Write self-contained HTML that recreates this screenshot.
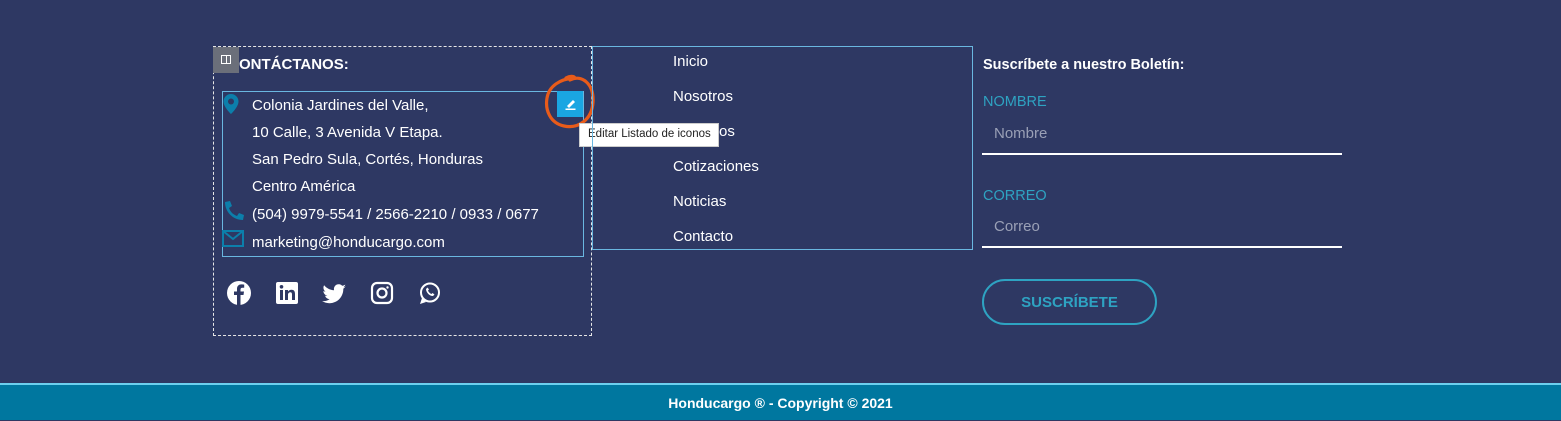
<!DOCTYPE html>
<html><head><meta charset="utf-8"><style>
*{margin:0;padding:0;box-sizing:border-box}
body{width:1561px;height:420px;background:#2e3863;position:relative;overflow:hidden;font-family:"Liberation Sans",sans-serif;color:#fff}
.a{position:absolute}
.t{font-size:15px;white-space:nowrap}
</style></head><body>
<div class="a" style="left:213px;top:46px;width:379px;height:290px;border:1px dashed #e6e6e6"></div>
<div class="a" style="left:213px;top:47px;width:26px;height:26px;background:#6b6f7a"></div>
<div class="a" style="left:221px;top:55px;width:10px;height:9px;border:1.5px solid #fff"></div>
<div class="a" style="left:225.5px;top:55px;width:1.5px;height:9px;background:#fff"></div>
<div class="a t" style="left:239px;top:56px;font-weight:bold;font-size:15px">ONTÁCTANOS:</div>
<div class="a" style="left:222px;top:91px;width:362px;height:166px;border:1px solid #6ab7e0"></div>
<div class="a" style="left:557px;top:91px;width:26px;height:26px;background:#1aa6e2"></div>
<svg class="a" style="left:557px;top:91px" width="26" height="26"><path d="M10 15 L16 9 L18 11 L12 17 Z" fill="#fff"/><rect x="8.5" y="17.5" width="10" height="1.5" fill="#fff"/></svg>
<svg class="a" style="left:538px;top:70px" width="62" height="64"><path d="M32 10 C44 4 56 14 55 32 C54 50 40 59 26 56 C12 53 7 40 9 28 C11 16 22 9 36 8 C38 7 33 5 28 8" fill="none" stroke="#e85b1a" stroke-width="3.2" stroke-linecap="round"/></svg>
<div class="a" style="left:579px;top:123px;width:140px;height:24px;background:#fff;border:1px solid #ccc;color:#222;font-size:11.5px;padding:4px 0 0 8px;white-space:nowrap">Editar Listado de iconos</div>
<svg class="a" style="left:222px;top:93px" width="18" height="22"><path d="M9 1a7.5 7.5 0 0 0-7.5 7.5C1.5 14 9 21 9 21s7.5-7 7.5-12.5A7.5 7.5 0 0 0 9 1z" fill="#0c7fab"/><circle cx="9" cy="8.5" r="3" fill="#2e3863"/></svg>
<svg class="a" style="left:222px;top:200px" width="24" height="22"><path d="M3 2l5-1 2 5-3 2c1.5 4 4 6.5 8 8l2-3 5 2-1 5c-10 0-18-8-18-18z" fill="#0c7fab"/></svg>
<svg class="a" style="left:222px;top:230px" width="22" height="17"><rect x="1" y="1" width="20" height="15" fill="none" stroke="#0c7fab" stroke-width="2"/><path d="M1 1l10 8 10-8" fill="none" stroke="#0c7fab" stroke-width="2"/></svg>
<div class="a t" style="left:252px;top:97px">Colonia Jardines del Valle,</div>
<div class="a t" style="left:252px;top:124px">10 Calle, 3 Avenida V Etapa.</div>
<div class="a t" style="left:252px;top:151px">San Pedro Sula, Cortés, Honduras</div>
<div class="a t" style="left:252px;top:178px">Centro América</div>
<div class="a t" style="left:252px;top:206px">(504) 9979-5541 / 2566-2210 / 0933 / 0677</div>
<div class="a t" style="left:252px;top:234px">marketing@honducargo.com</div>
<svg class="a" style="left:227px;top:281px" width="220" height="25">
<circle cx="12" cy="12" r="12" fill="#fff"/><path d="M13.5 24V14h3l.5-3.5h-3.5V8.5c0-1 .5-1.8 2-1.8h1.7V3.6c-.5 0-1.6-.2-2.8-.2-2.8 0-4.4 1.7-4.4 4.6v2.5H7V14h3v10z" fill="#2e3863"/>
<rect x="49" y="1" width="22" height="22" rx="2" fill="#fff"/><rect x="53" y="9" width="3" height="10" fill="#2e3863"/><circle cx="54.5" cy="5.8" r="1.8" fill="#2e3863"/><path d="M58 9h3v1.5c.8-1.2 2-1.8 3.5-1.8 2.5 0 3.5 1.6 3.5 4.3V19h-3v-5.5c0-1.4-.5-2.2-1.6-2.2S61 12.2 61 13.6V19h-3z" fill="#2e3863"/>
<path d="M119 5.5c-.9.4-1.8.6-2.8.8 1-.6 1.8-1.5 2.1-2.7-.9.6-2 1-3.1 1.2a4.8 4.8 0 0 0-8.2 4.4c-4-.2-7.5-2.1-9.9-5-1.3 2.2-.6 5 1.5 6.4-.8 0-1.5-.2-2.2-.6 0 2.3 1.7 4.3 3.9 4.7-.7.2-1.5.2-2.2.1.6 2 2.4 3.3 4.5 3.3A9.7 9.7 0 0 1 95 20c2.1 1.4 4.7 2.2 7.4 2.2 9 0 13.9-7.4 13.9-13.9v-.6c1-.7 1.8-1.5 2.4-2.4z" fill="#fff"/>
<rect x="145" y="2" width="20" height="20" rx="5" fill="none" stroke="#fff" stroke-width="2.2"/><circle cx="155" cy="12" r="4.5" fill="none" stroke="#fff" stroke-width="2.2"/><circle cx="160.5" cy="6.5" r="1.2" fill="#fff"/>
<circle cx="203" cy="11.5" r="9" fill="none" stroke="#fff" stroke-width="2"/><path d="M195 17l-2 6 6-2z" fill="#fff"/><path d="M199 8c0 3 3 7 7 7l1.5-1.5-2-1.5-1 1c-1.5-.5-3-2-3.5-3.5l1-1-1.5-2z" fill="#fff"/>
</svg>
<div class="a" style="left:592px;top:46px;width:381px;height:204px;border:1px solid #6ab7e0"></div>
<div class="a t" style="left:673px;top:53px">Inicio</div>
<div class="a t" style="left:673px;top:88px">Nosotros</div>
<div class="a t" style="left:719px;top:123px">os</div>
<div class="a t" style="left:673px;top:158px">Cotizaciones</div>
<div class="a t" style="left:673px;top:193px">Noticias</div>
<div class="a t" style="left:673px;top:228px">Contacto</div>
<div class="a t" style="left:983px;top:57px;font-weight:bold;font-size:14.5px">Suscríbete a nuestro Boletín:</div>
<div class="a t" style="left:983px;top:94px;color:#2ea3c2;font-size:14.5px">NOMBRE</div>
<div class="a t" style="left:994px;top:125px;color:#9aa0b6;font-size:15px">Nombre</div>
<div class="a" style="left:982px;top:153px;width:360px;height:2px;background:#fff"></div>
<div class="a t" style="left:983px;top:188px;color:#2ea3c2;font-size:14.5px">CORREO</div>
<div class="a t" style="left:994px;top:218px;color:#9aa0b6;font-size:15px">Correo</div>
<div class="a" style="left:982px;top:246px;width:360px;height:2px;background:#fff"></div>
<div class="a" style="left:982px;top:279px;width:175px;height:46px;border:2px solid #2ea3c2;border-radius:23px;color:#2ea3c2;font-weight:bold;font-size:15px;text-align:center;line-height:44px">SUSCRÍBETE</div>
<div class="a" style="left:0;top:383px;width:1561px;height:2px;background:#6ccfee"></div>
<div class="a" style="left:0;top:385px;width:1561px;height:35px;background:#00779f;text-align:center;font-weight:bold;font-size:14px;line-height:36px">Honducargo ® - Copyright © 2021</div>
</body></html>
